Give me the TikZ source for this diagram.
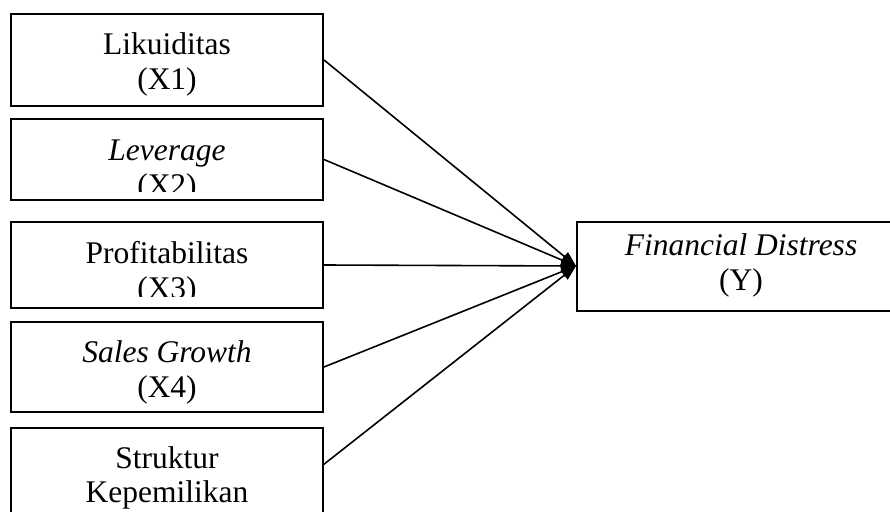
\documentclass[tikz,border=0pt]{standalone}
\usepackage{fontspec}
\setmainfont{Liberation Serif}
\usetikzlibrary{arrows.meta}
\begin{document}
\begin{tikzpicture}[x=1pt,y=-1pt,
  box/.style={draw, line width=2pt, inner sep=0pt},
  lbl/.style={anchor=base, inner sep=0pt, font=\fontsize{31.5}{35}\selectfont},
  conn/.style={line width=1.6pt, -{Triangle[length=15pt,width=11pt]}}]
\clip (0,0) rectangle (890,511);
% boxes
\node[box, minimum width=312pt, minimum height=92pt] (b1) at (167,60) {};
\node[box, minimum width=312pt, minimum height=81pt] (b2) at (167,159.5) {};
\node[box, minimum width=312pt, minimum height=86pt] (b3) at (167,265) {};
\node[box, minimum width=312pt, minimum height=90pt] (b4) at (167,367) {};
\node[box, minimum width=312pt, minimum height=102pt] (b5) at (167,479) {};
\node[box, minimum width=328pt, minimum height=89pt] (y) at (741,266.5) {};
\coordinate (b5e) at (323,465);
\coordinate (tip) at (576,266);
% texts
\node[lbl] (t1a) at (167,55) {Likuiditas};
\node[lbl] (t1b) at (167,89) {(X1)};
\begin{scope}
\clip (11,119) rectangle (323,191);
\node[lbl] (t2a) at (167,160) {\itshape Leverage};
\node[lbl] (t2b) at (167,195) {(X2)};
\end{scope}
\begin{scope}
\clip (11,222) rectangle (323,296);
\node[lbl] (t3a) at (167,263) {Profitabilitas};
\node[lbl] (t3b) at (167,298) {(X3)};
\end{scope}
\node[lbl] (t4a) at (167,362) {\itshape Sales Growth};
\node[lbl] (t4b) at (167,397) {(X4)};
\node[lbl] (t5a) at (167,468) {Struktur};
\node[lbl] (t5b) at (167,502) {Kepemilikan};
\begin{scope}
\clip (577,222) rectangle (905,302);
\node[lbl] (tya) at (741,255) {\itshape Financial Distress};
\node[lbl] (tyb) at (741,290) {(Y)};
\end{scope}
% connectors
\draw[conn] (b1.east) -- (tip);
\draw[conn] (b2.east) -- (tip);
\draw[conn] (b3.east) -- (tip);
\draw[conn] (b4.east) -- (tip);
\draw[conn] (b5e) -- (tip);
\end{tikzpicture}
\end{document}
